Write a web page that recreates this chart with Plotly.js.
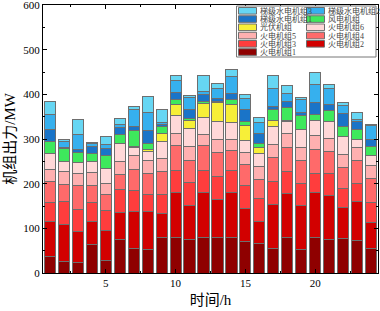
<!DOCTYPE html>
<html><head><meta charset="utf-8">
<script src="https://cdn.plot.ly/plotly-3.0.1.min.js"></script>
<style>body{margin:0;background:#fff}</style>
</head><body><div id="chart" style="width:380px;height:311px"></div>
<script>
const hours = [1,2,3,4,5,6,7,8,9,10,11,12,13,14,15,16,17,18,19,20,21,22,23,24];
const thermal1 = [37,25,24,63,27,74,55,52,80,80,76,80,80,79,70,66,54,80,52,80,74,77,72,55];
const thermal2 = [78,83,68,52,68,62,82,86,53,100,76,100,85,101,75,50,99,98,99,100,99,70,87,57];
const thermal3 = [42,52,50,42,46,50,48,37,42,49,50,50,50,49,50,50,51,50,50,43,50,42,41,46];
const thermal4 = [47,39,55,38,35,34,47,47,53,56,51,55,55,45,47,44,54,54,51,54,49,47,52,53];
const thermal5 = [28,29,25,29,25,30,30,29,28,27,30,24,29,25,28,28,29,31,30,30,30,30,30,29];
const thermal6 = [35,21,25,25,34,39,19,20,38,40,40,39,40,38,27,29,40,26,40,35,38,39,18,22];
const solar    = [0,0,0,0,0,0,3,6,18,26,18,32,42,40,34,15,15,3,0,0,0,0,0,0];
const wind     = [27,29,23,18,27,21,36,13,17,10,4,4,4,11,9,8,23,29,30,12,24,23,22,22];
const hydro1   = [28,2,6,16,16,15,9,30,4,16,20,16,6,15,25,22,7,12,8,28,14,29,18,14];
const hydro2   = [33,15,34,7,9,7,38,39,3,27,27,6,23,36,25,25,42,19,28,40,36,17,3,32];
const hydro3   = [30,5,33,2,18,13,5,36,30,11,6,36,11,16,10,11,29,17,6,28,9,7,17,3];
const xTicks = [5,10,15,20];
const yTicks = [0,100,200,300,400,500,600];

const seriesNames = ['火电机组1','火电机组2','火电机组3','火电机组4','火电机组5','火电机组6','光伏机组','风电机组','梯级水电机组1','梯级水电机组2','梯级水电机组3'];
const seriesValues = [thermal1,thermal2,thermal3,thermal4,thermal5,thermal6,solar,wind,hydro1,hydro2,hydro3];
const seriesColors = ['#8f0000','#d20000','#ff3d3d','#ff6a6a','#ffb0b0','#ffd8d8','#f7ef38','#3ee85c','#1a74c8','#36b0ee','#66d6f3'];

const traces = seriesNames.map((n,i)=>({
  type:'bar', x:hours, y:seriesValues[i], name:n,
  marker:{color:seriesColors[i], line:{color:'#6e6e6e', width:1}},
  width:0.8, showlegend:false
}));

// custom compact legend (two columns, order as in reference)
const L=43, T=5, W=335, H=268;
const px = x => (x-L)/W, py = y => (T+H-y)/H;
const legendOrder = [10,9,8,7,6,5,4,3,2,1,0];
const shapes = [{type:'rect', xref:'paper', yref:'paper', x0:px(236.5), x1:px(376), y0:py(57), y1:py(6),
  line:{color:'#777', width:1}, fillcolor:'#fff', layer:'above'}];
const annotations = [];
legendOrder.forEach((si,k)=>{
  const col = k%2, row = Math.floor(k/2);
  const yc = 10.8 + row*8.25;
  const sx = col===0 ? 238.5 : 306.5;
  shapes.push({type:'rect', xref:'paper', yref:'paper', x0:px(sx), x1:px(sx+18), y0:py(yc+3.3), y1:py(yc-3.3),
    fillcolor:seriesColors[si], line:{color:'#6e6e6e', width:1}, layer:'above'});
  annotations.push({xref:'paper', yref:'paper', x:px(sx+19.5), y:py(yc), xanchor:'left', yanchor:'middle',
    text:seriesNames[si], showarrow:false, font:{size:8, color:'#444', family:'Liberation Serif, Noto Sans CJK SC'}});
});

const layout = {
  width:380, height:311,
  margin:{l:L, r:380-L-W, t:T, b:311-T-H},
  barmode:'stack', bargap:0.2,
  paper_bgcolor:'#fff', plot_bgcolor:'#fff',
  font:{family:'Liberation Serif, Noto Sans CJK SC', color:'#000'},
  xaxis:{range:[0.5,24.5], tickvals:xTicks, ticktext:xTicks.map(String), ticks:'inside', ticklen:4, tickcolor:'#000',
    showline:true, linecolor:'#000', linewidth:1, mirror:'allticks', showgrid:false, zeroline:false,
    tickfont:{size:11, family:'Liberation Serif'},
    minor:{tickvals:[2.5,7.5,12.5,17.5,22.5], ticks:'inside', ticklen:2, tickcolor:'#000'},
    title:{text:'时间/h', font:{size:15, family:'Liberation Serif, Noto Sans CJK SC'}, standoff:6}},
  yaxis:{range:[0,600.01], tickvals:yTicks, ticktext:yTicks.map(String), ticks:'inside', ticklen:4, tickcolor:'#000',
    ticklabeloverflow:'allow',
    showline:true, linecolor:'#000', linewidth:1, mirror:'allticks', showgrid:false, zeroline:false,
    tickfont:{size:11, family:'Liberation Serif'},
    minor:{tickvals:[50,150,250,350,450,550], ticks:'inside', ticklen:2, tickcolor:'#000'},
    title:{text:'机组出力/MW', font:{size:15, family:'Liberation Serif, Noto Sans CJK SC'}, standoff:4}},
  shapes:shapes, annotations:annotations, showlegend:false
};
Plotly.newPlot('chart', traces, layout, {displayModeBar:false, staticPlot:true});
</script></body></html>
